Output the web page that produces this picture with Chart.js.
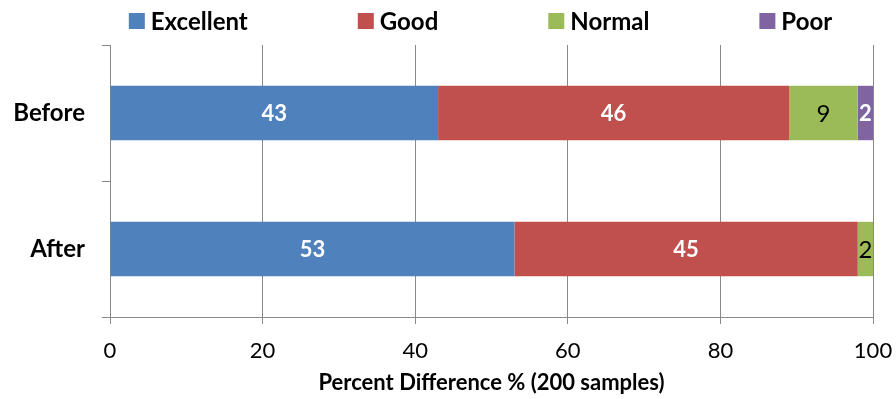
<!DOCTYPE html>
<html>
<head>
<meta charset="utf-8">
<script src="https://cdn.jsdelivr.net/npm/chart.js@4/dist/chart.umd.min.js"></script>
<style>
  html, body { margin: 0; padding: 0; background: #ffffff; }
  #wrap { width: 896px; height: 399px; }
</style>
</head>
<body>
<div id="wrap"><canvas id="chart" width="896" height="399"></canvas></div>
<script>
// Survey ratings before and after, in percent of 200 samples
const categories = ['Before', 'After'];
const excellent = [43, 53];
const good = [46, 45];
const normal = [9, 2];
const poor = [2, 0];
const seriesNames = ['Excellent', 'Good', 'Normal', 'Poor'];
const xTickValues = [0, 20, 40, 60, 80, 100];
const xAxisTitle = 'Percent Difference % (200 samples)';

const FONT = 'Lato, "Open Sans", sans-serif';
const GRID = '#898989';

// Legend row drawn across the top, evenly gapped
const topLegend = {
  id: 'topLegend',
  afterDraw(chart) {
    const ctx = chart.ctx;
    const sets = chart.data.datasets;
    const box = 16, gapText = 6, gapItem = 110, centerX = 480.5, cy = 21;
    ctx.save();
    ctx.font = 'bold 24px ' + FONT;
    const widths = sets.map(ds => box + gapText + ctx.measureText(ds.label).width);
    const total = widths.reduce((a, b) => a + b, 0) + gapItem * (sets.length - 1);
    let x = centerX - total / 2;
    ctx.textBaseline = 'middle';
    ctx.textAlign = 'left';
    sets.forEach((ds, i) => {
      ctx.fillStyle = ds.backgroundColor;
      ctx.fillRect(x, cy - box / 2, box, box);
      ctx.fillStyle = '#000000';
      ctx.fillText(ds.label, x + box + gapText, cy + 1);
      x += widths[i] + gapItem;
    });
    ctx.restore();
  }
};

// Value labels centred inside each bar segment
const barValues = {
  id: 'barValues',
  afterDatasetsDraw(chart) {
    const ctx = chart.ctx;
    const area = chart.chartArea;
    ctx.save();
    ctx.beginPath();
    ctx.rect(area.left, area.top, area.right - area.left, area.bottom - area.top);
    ctx.clip();
    ctx.textAlign = 'center';
    ctx.textBaseline = 'middle';
    chart.data.datasets.forEach((ds, d) => {
      const meta = chart.getDatasetMeta(d);
      ctx.font = ds.labelFont;
      ctx.fillStyle = ds.labelColor;
      meta.data.forEach((bar, i) => {
        const v = ds.data[i];
        if (!v) return;
        ctx.fillText(String(v), (bar.x + bar.base) / 2, bar.y + 1);
      });
    });
    ctx.restore();
  }
};

const palette = ['#4F81BD', '#C0504D', '#9BBB59', '#8064A2'];
const labelColors = ['#ffffff', '#ffffff', '#000000', '#ffffff'];
const labelFonts = ['bold 22px ' + FONT, 'bold 22px ' + FONT, '24px ' + FONT, 'bold 22px ' + FONT];
const seriesData = [excellent, good, normal, poor];

new Chart(document.getElementById('chart'), {
  type: 'bar',
  data: {
    labels: categories,
    datasets: seriesNames.map((name, i) => ({
      label: name,
      data: seriesData[i],
      backgroundColor: palette[i],
      borderWidth: 0,
      labelColor: labelColors[i],
      labelFont: labelFonts[i],
      categoryPercentage: 1.0,
      barPercentage: 0.4
    }))
  },
  options: {
    indexAxis: 'y',
    responsive: false,
    animation: false,
    layout: { padding: { top: 45, right: 23, left: 0, bottom: 0 } },
    plugins: {
      legend: { display: false },
      tooltip: { enabled: false }
    },
    scales: {
      x: {
        stacked: true,
        min: 0,
        max: 100,
        afterBuildTicks(scale) {
          scale.ticks = xTickValues.map(v => ({ value: v }));
        },
        afterFit(scale) {
          scale.height = 82;
          scale.paddingLeft = 0;
          scale.paddingRight = 0;
        },
        ticks: {
          color: '#000000',
          font: { family: FONT, size: 22 },
          padding: 14,
          maxRotation: 0
        },
        grid: { color: GRID, lineWidth: 1, tickLength: 7 },
        border: { color: GRID, width: 1 },
        title: {
          display: true,
          text: xAxisTitle,
          color: '#000000',
          font: { family: FONT, size: 22, weight: 'bold' },
          padding: { top: 0, bottom: 3 }
        }
      },
      y: {
        stacked: true,
        offset: true,
        afterFit(scale) { scale.width = 110; },
        ticks: {
          color: '#000000',
          font: { family: FONT, size: 24, weight: 'bold' },
          padding: 17
        },
        grid: { drawOnChartArea: false, offset: true, color: GRID, lineWidth: 1, tickLength: 8 },
        border: { color: GRID, width: 1 }
      }
    }
  },
  plugins: [topLegend, barValues]
});
</script>
</body>
</html>
